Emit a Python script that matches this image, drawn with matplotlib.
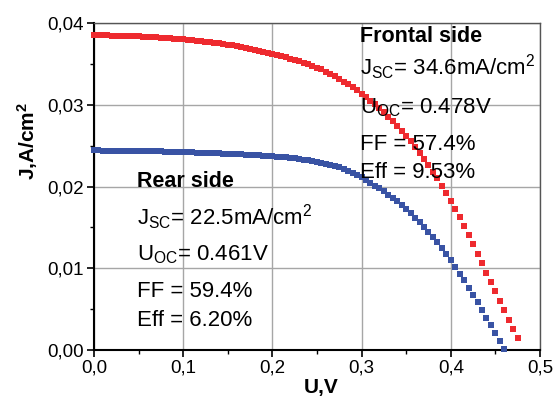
import matplotlib as mpl
mpl.use('Agg')
import matplotlib.pyplot as plt
from matplotlib.ticker import FuncFormatter, MultipleLocator

# measured J-U points (voltage step 5 mV)
voltage = [0.000, 0.005, 0.010, 0.015, 0.020, 0.025, 0.030, 0.035, 0.040, 0.045,
           0.050, 0.055, 0.060, 0.065, 0.070, 0.075, 0.080, 0.085, 0.090, 0.095,
           0.100, 0.105, 0.110, 0.115, 0.120, 0.125, 0.130, 0.135, 0.140, 0.145,
           0.150, 0.155, 0.160, 0.165, 0.170, 0.175, 0.180, 0.185, 0.190, 0.195,
           0.200, 0.205, 0.210, 0.215, 0.220, 0.225, 0.230, 0.235, 0.240, 0.245,
           0.250, 0.255, 0.260, 0.265, 0.270, 0.275, 0.280, 0.285, 0.290, 0.295,
           0.300, 0.305, 0.310, 0.315, 0.320, 0.325, 0.330, 0.335, 0.340, 0.345,
           0.350, 0.355, 0.360, 0.365, 0.370, 0.375, 0.380, 0.385, 0.390, 0.395,
           0.400, 0.405, 0.410, 0.415, 0.420, 0.425, 0.430, 0.435, 0.440, 0.445,
           0.450, 0.455, 0.460, 0.465, 0.470, 0.475]

j_front = [0.03850, 0.03850, 0.03849, 0.03848, 0.03847, 0.03846, 0.03845, 0.03843, 0.03841, 0.03839,
           0.03837, 0.03834, 0.03831, 0.03828, 0.03825, 0.03821, 0.03817, 0.03813, 0.03809, 0.03805,
           0.03800, 0.03795, 0.03790, 0.03784, 0.03778, 0.03772, 0.03765, 0.03758, 0.03751, 0.03743,
           0.03735, 0.03726, 0.03717, 0.03707, 0.03697, 0.03686, 0.03675, 0.03663, 0.03651, 0.03638,
           0.03625, 0.03611, 0.03597, 0.03582, 0.03566, 0.03550, 0.03533, 0.03515, 0.03497, 0.03477,
           0.03456, 0.03432, 0.03406, 0.03378, 0.03348, 0.03317, 0.03285, 0.03251, 0.03215, 0.03177,
           0.03137, 0.03095, 0.03051, 0.03005, 0.02957, 0.02907, 0.02855, 0.02800, 0.02742, 0.02682,
           0.02620, 0.02554, 0.02486, 0.02415, 0.02341, 0.02264, 0.02184, 0.02100, 0.02013, 0.01923,
           0.01828, 0.01728, 0.01623, 0.01515, 0.01405, 0.01293, 0.01179, 0.01064, 0.00949, 0.00834,
           0.00719, 0.00604, 0.00489, 0.00374, 0.00259, 0.00144]

j_rear = [0.02442, 0.02442, 0.02441, 0.02441, 0.02440, 0.02440, 0.02439, 0.02438, 0.02438, 0.02437,
          0.02436, 0.02435, 0.02434, 0.02433, 0.02432, 0.02430, 0.02429, 0.02427, 0.02425, 0.02423,
          0.02421, 0.02419, 0.02417, 0.02415, 0.02413, 0.02411, 0.02409, 0.02407, 0.02405, 0.02403,
          0.02401, 0.02399, 0.02397, 0.02395, 0.02392, 0.02389, 0.02386, 0.02382, 0.02379, 0.02375,
          0.02370, 0.02366, 0.02361, 0.02356, 0.02350, 0.02344, 0.02337, 0.02329, 0.02321, 0.02312,
          0.02302, 0.02291, 0.02279, 0.02266, 0.02251, 0.02235, 0.02217, 0.02195, 0.02170, 0.02142,
          0.02112, 0.02080, 0.02047, 0.02013, 0.01978, 0.01941, 0.01902, 0.01861, 0.01818, 0.01772,
          0.01724, 0.01674, 0.01622, 0.01567, 0.01509, 0.01448, 0.01384, 0.01317, 0.01247, 0.01174,
          0.01098, 0.01019, 0.00937, 0.00852, 0.00765, 0.00676, 0.00585, 0.00492, 0.00398, 0.00303,
          0.00207, 0.00110, 0.00013]

front_lines = [r"J$_{\mathrm{SC}}$= 34.6mA/cm$^{2}$", r"U$_{\mathrm{OC}}$= 0.478V",
               "FF = 57.4%", "Eff = 9.53%"]
rear_lines = [r"J$_{\mathrm{SC}}$= 22.5mA/cm$^{2}$", r"U$_{\mathrm{OC}}$= 0.461V",
              "FF = 59.4%", "Eff = 6.20%"]

plt.rcParams['font.family'] = ['Liberation Sans', 'DejaVu Sans']
plt.rcParams['mathtext.fontset'] = 'custom'
plt.rcParams['mathtext.rm'] = 'Liberation Sans'
plt.rcParams['mathtext.it'] = 'Liberation Sans'
plt.rcParams['mathtext.bf'] = 'Liberation Sans:bold'

fig = plt.figure(figsize=(5.59, 3.97), dpi=100)
ax = fig.add_axes([0.168, 0.118, 0.798, 0.824])

red = '#ee2a2f'
blue = '#3953a4'
ax.plot(voltage, j_front, 's', color=red, ms=3.7, mew=0, clip_on=False, zorder=3)
ax.plot(voltage[:len(j_rear)], j_rear, 's', color=blue, ms=3.7, mew=0, clip_on=False, zorder=3)

ax.set_xlim(0, 0.5)
ax.set_ylim(0, 0.04)
ax.xaxis.set_major_locator(MultipleLocator(0.1))
ax.xaxis.set_minor_locator(MultipleLocator(0.05))
ax.yaxis.set_major_locator(MultipleLocator(0.01))
ax.yaxis.set_minor_locator(MultipleLocator(0.005))
ax.xaxis.set_major_formatter(FuncFormatter(lambda v, p: f"{v:.1f}".replace('.', ',')))
ax.yaxis.set_major_formatter(FuncFormatter(lambda v, p: f"{v:.2f}".replace('.', ',')))
ax.tick_params(which='major', direction='out', length=5, width=1.2, labelsize=13.5, pad=2)
ax.tick_params(which='minor', direction='out', length=3, width=1.0)
ax.grid(True, which='major', color='#a6a6a6', lw=1.0)
ax.set_axisbelow(True)

for side in ['left', 'bottom']:
    ax.spines[side].set_linewidth(1.5)
    ax.spines[side].set_color('black')
for side in ['top', 'right']:
    ax.spines[side].set_linewidth(1.0)
    ax.spines[side].set_color('#555555')

ax.set_xlabel('U,V', fontsize=15, fontweight='bold')
ax.xaxis.set_label_coords(0.51, -0.085)
ax.set_ylabel(r'J,A/cm$^{\mathbf{2}}$', fontsize=15, fontweight='bold')
ax.yaxis.set_label_coords(-0.12, 0.64)

# annotation blocks
ax.text(0.596, 0.942, 'Frontal side', transform=ax.transAxes, fontsize=15.5,
        fontweight='bold', va='baseline')
for txt, yy in zip(front_lines, [0.841, 0.725, 0.612, 0.526]):
    ax.text(0.596, yy, txt, transform=ax.transAxes, fontsize=16, va='baseline')

ax.text(0.096, 0.498, 'Rear side', transform=ax.transAxes, fontsize=15.5,
        fontweight='bold', va='baseline')
for txt, yy in zip(rear_lines, [0.382, 0.275, 0.162, 0.073]):
    ax.text(0.096, yy, txt, transform=ax.transAxes, fontsize=16, va='baseline')

plt.savefig('out.png', dpi=100)
